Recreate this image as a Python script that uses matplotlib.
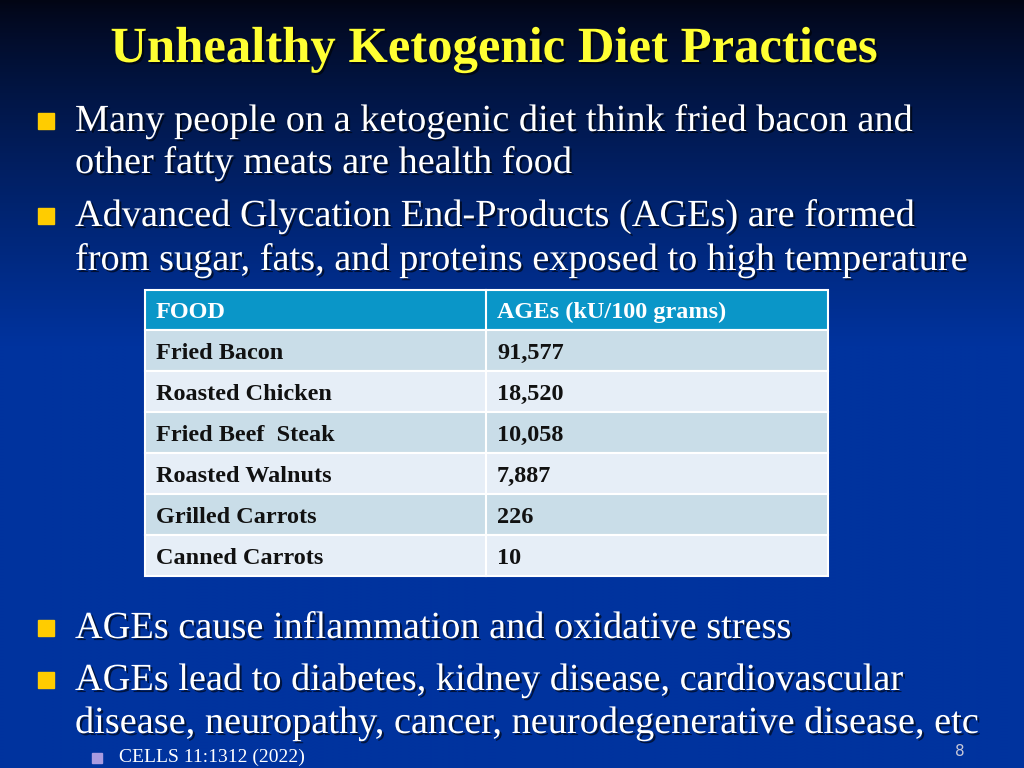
import numpy as np
import matplotlib
matplotlib.use("Agg")
import matplotlib.pyplot as plt
import matplotlib.patheffects as pe
from matplotlib.patches import Rectangle

# slide content
title = "Unhealthy Ketogenic Diet Practices"
bullets_top = [
    ["Many people on a ketogenic diet think fried bacon and",
     "other fatty meats are health food"],
    ["Advanced Glycation End-Products (AGEs) are formed",
     "from sugar, fats, and proteins exposed to high temperature"],
]
bullets_bottom = [
    ["AGEs cause inflammation and oxidative stress"],
    ["AGEs lead to diabetes, kidney disease, cardiovascular",
     "disease, neuropathy, cancer, neurodegenerative disease, etc"],
]
sub_bullet = "CELLS 11:1312 (2022)"
page_no = "8"

header = ["FOOD", "AGEs (kU/100 grams)"]
foods = ["Fried Bacon", "Roasted Chicken", "Fried Beef  Steak",
         "Roasted Walnuts", "Grilled Carrots", "Canned Carrots"]
ages = ["91,577", "18,520", "10,058", "7,887", "226", "10"]

fig = plt.figure(figsize=(10.24, 7.68), dpi=100)
ax = fig.add_axes([0, 0, 1, 1])
ax.set_xlim(0, 1024)
ax.set_ylim(768, 0)
ax.axis("off")

# background gradient, dark navy at top to royal blue
t = np.linspace(0, 1, 256)[:, None]
top = np.array([0.01, 0.02, 0.08])
bot = np.array([0.0, 0.20, 0.62])
w = np.clip(t / 0.45, 0, 1) ** 0.8
grad = top + (bot - top) * w[..., None]
grad = np.repeat(grad, 2, axis=1)
ax.imshow(grad, extent=[0, 1024, 768, 0], aspect="auto", zorder=0)

shadow = [pe.withSimplePatchShadow(offset=(1.5, -1.5), shadow_rgbFace="black", alpha=0.6)]
serif = "Liberation Serif"

ax.text(495, 62, title, color="#ffff33", fontsize=36.5, fontweight="bold",
        family=serif, ha="center", va="baseline", path_effects=shadow)

def bullet_block(lines, y0, dy):
    ax.add_patch(Rectangle((38, y0 - 8), 16, 16, color="#ffcc00", zorder=3))
    for i, line in enumerate(lines):
        ax.text(75, y0 + 10 + i * dy, line, color="white", fontsize=27.6, family=serif,
                ha="left", va="baseline", path_effects=shadow, zorder=3)

bullet_block(bullets_top[0], 121, 42)
bullet_block(bullets_top[1], 216, 44)
bullet_block(bullets_bottom[0], 628, 44)
bullet_block(bullets_bottom[1], 680, 43)

ax.add_patch(Rectangle((92, 753), 10, 10, color="#a99be0", zorder=3))
ax.text(119, 762, sub_bullet, color="white", fontsize=14, family=serif,
        ha="left", va="baseline", zorder=3)
ax.text(960, 752, page_no, color="#c8c8d8", fontsize=11, ha="center", va="center")

# table
x0, xm, x1 = 145, 486, 828
hy, hh, rh = 290, 40, 41
fs = 17.5
ax.add_patch(Rectangle((x0, hy), x1 - x0, hh, facecolor="#0a96c8",
                       edgecolor="white", lw=1.5, zorder=2))
ax.plot([xm, xm], [hy, hy + hh], color="white", lw=1.5, zorder=3)
for j, h in enumerate(header):
    ax.text([x0, xm][j] + 11, hy + hh * 0.7, h, color="white", fontsize=fs,
            fontweight="bold", family=serif, ha="left", va="baseline", zorder=4)

for i, (f, a) in enumerate(zip(foods, ages)):
    y = hy + hh + i * rh
    fc = "#c9dde8" if i % 2 == 0 else "#e6eef7"
    ax.add_patch(Rectangle((x0, y), x1 - x0, rh, facecolor=fc,
                           edgecolor="white", lw=1.5, zorder=2))
    ax.plot([xm, xm], [y, y + rh], color="white", lw=1.5, zorder=3)
    ax.text(x0 + 11, y + rh * 0.7, f, color="#111111", fontsize=fs,
            fontweight="bold", family=serif, ha="left", va="baseline", zorder=4)
    ax.text(xm + 11, y + rh * 0.7, a, color="#111111", fontsize=fs,
            fontweight="bold", family=serif, ha="left", va="baseline", zorder=4)

fig.savefig("out.png", dpi=100)
